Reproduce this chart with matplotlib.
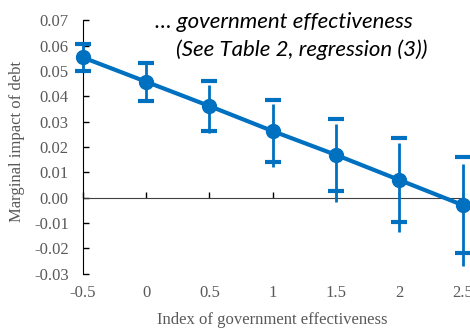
import matplotlib.pyplot as plt

# marginal effect of debt across the index of government effectiveness
gov_eff = [-0.5, 0, 0.5, 1, 1.5, 2, 2.5]
effect = [0.0554, 0.0458, 0.0362, 0.0263, 0.0169, 0.0070, -0.0029]
ci_half = [0.0052, 0.0075, 0.0097, 0.0121, 0.0142, 0.0165, 0.0188]
# whisker ends as drawn
whisk_hi = [0.0609, 0.0536, 0.0445, 0.0369, 0.0291, 0.0217, 0.0132]
whisk_lo = [0.0504, 0.0378, 0.0254, 0.0123, -0.0016, -0.0134, -0.0270]

blue = '#0070C0'
grey = '#595959'
serif = 'Liberation Serif'

fig = plt.figure(figsize=(4.70, 3.29), dpi=100)
ax = fig.add_axes([0.176, 0.168, 0.8085, 0.770])

ax.vlines(gov_eff, whisk_lo, whisk_hi, color=blue, lw=2, zorder=3, clip_on=False)
hi = [e + h for e, h in zip(effect, ci_half)]
lo = [e - h for e, h in zip(effect, ci_half)]
ax.plot(gov_eff, hi, ls='none', marker='_', ms=11, mew=3, color=blue, zorder=3, clip_on=False)
ax.plot(gov_eff, lo, ls='none', marker='_', ms=11, mew=3, color=blue, zorder=3, clip_on=False)
ax.plot(gov_eff, effect, color=blue, lw=3, marker='o', ms=10, zorder=4, clip_on=False)

ax.set_xlim(-0.5, 2.5)
ax.set_ylim(-0.03, 0.07)
ax.set_xticks(gov_eff)
ax.set_xticklabels(['-0.5', '0', '0.5', '1', '1.5', '2', '2.5'])
ax.set_yticks([i / 100 for i in range(-3, 8)])
ax.set_yticklabels(['%.2f' % (i / 100) for i in range(-3, 8)])

for s in ['top', 'right']:
    ax.spines[s].set_visible(False)
ax.spines['left'].set_color('black')
ax.spines['bottom'].set_position(('data', 0))
ax.spines['bottom'].set_color('#404040')
ax.spines['bottom'].set_zorder(2)

ax.tick_params(axis='y', direction='in', length=4, width=1, pad=10,
               labelsize=12, labelcolor=grey)
ax.tick_params(axis='x', direction='in', length=4, width=1, pad=63,
               labelsize=12, labelcolor=grey)
for lab in ax.get_xticklabels() + ax.get_yticklabels():
    lab.set_fontfamily(serif)
for lab in ax.get_xticklabels():
    lab.set_clip_on(False)

fig.text(17.5 / 470, 1 - 141 / 329, 'Marginal impact of debt', rotation=90,
         family=serif, fontsize=12, color=grey, ha='center', va='center')
fig.text(272 / 470, 1 - 320 / 329, 'Index of government effectiveness',
         family=serif, fontsize=12, color=grey, ha='center', va='center')

fig.text(155 / 470, 1 - 22 / 329, '\u2026 government effectiveness',
         family='Lato', style='italic', fontsize=16, color='black', va='center')
fig.text(176 / 470, 1 - 50 / 329, '(See Table 2, regression (3))',
         family='Lato', style='italic', fontsize=16, color='black', va='center')

fig.savefig('out.png', dpi=100)
